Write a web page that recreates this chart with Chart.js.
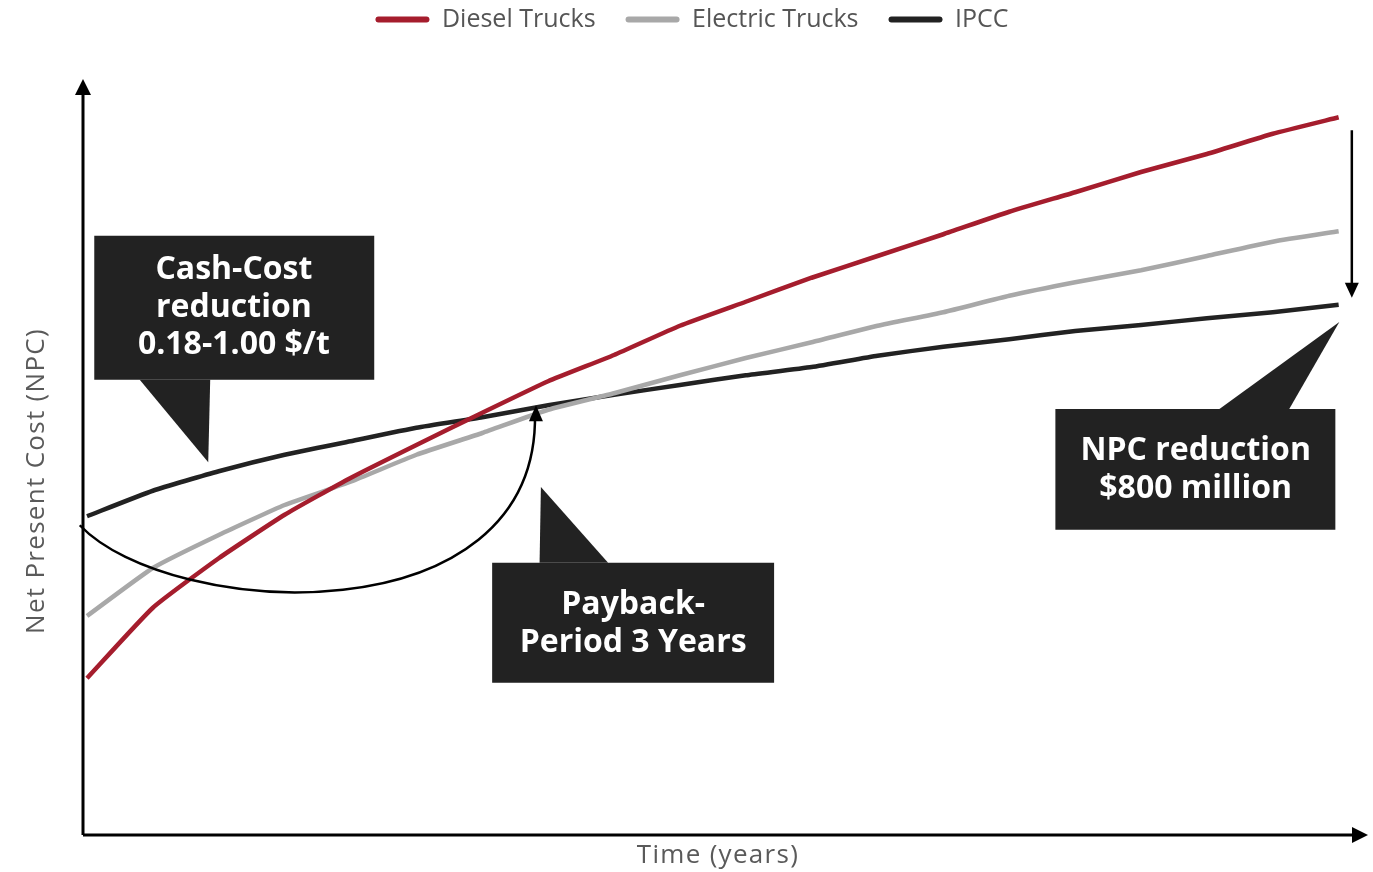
<!DOCTYPE html>
<html lang="en">
<head>
  <meta charset="UTF-8" />
  <title>NPC - Diesel vs Electric Trucks</title>
  <script src="https://cdn.jsdelivr.net/npm/chart.js"></script>
  <style>
    html, body { margin: 0; padding: 0; background: #fff; }
  </style>
</head>
<body>
  <canvas id="npcChart" width="1373" height="872"></canvas>

  <script>
    // years on the x axis (no tick labels shown in the picture)
    const years = [0, 1, 2, 3, 4, 5, 6, 7, 8, 9, 10, 11, 12, 13, 14, 15, 16, 17, 18, 19];

    // NPC, arbitrary units (0 - 100)
    const diesel = [20.9, 30.3, 36.9, 42.7, 47.6, 52.0, 56.3, 60.5, 64.0, 67.9, 71.1, 74.3, 77.2, 80.1, 83.1, 85.7, 88.4, 90.8, 93.5, 95.7];
    const electric = [29.2, 35.6, 40.0, 44.0, 47.1, 50.7, 53.6, 56.7, 58.9, 61.3, 63.6, 65.7, 67.9, 69.7, 71.9, 73.7, 75.3, 77.2, 79.1, 80.5];
    const ipcc = [42.5, 45.9, 48.5, 50.7, 52.5, 54.3, 55.7, 57.3, 58.7, 60.0, 61.3, 62.4, 63.9, 65.1, 66.1, 67.2, 68.0, 68.9, 69.7, 70.7];

    const seriesNames = ['Diesel Trucks', 'Electric Trucks', 'IPCC'];
    const seriesColors = ['#a51d2d', '#a8a8a8', '#222222'];

    const FONT = '"Open Sans", "DejaVu Sans", sans-serif';

    // callout boxes, in data units (x = year, y = NPC)
    const callouts = [
      {
        box: [0.11, 79.9, 4.36, 60.7],
        pointer: [[0.80, 60.7], [1.87, 60.7], [1.84, 49.7]],
        lines: ['Cash-Cost', 'reduction', '0.18-1.00 $/t'],
        textX: 2.23, textY: [75.3, 70.3, 65.3]
      },
      {
        box: [6.15, 36.3, 10.43, 20.3],
        pointer: [[6.87, 36.3], [7.91, 36.3], [6.89, 46.4]],
        lines: ['Payback-', 'Period 3 Years'],
        textX: 8.29, textY: [30.7, 25.6]
      },
      {
        box: [14.70, 56.8, 18.95, 40.7],
        pointer: [[17.19, 56.8], [18.25, 56.8], [19.01, 68.4]],
        lines: ['NPC reduction', '$800 million'],
        textX: 16.83, textY: [51.2, 46.1]
      }
    ];

    function arrowHead(ctx, tipX, tipY, fromX, fromY, len, half) {
      const a = Math.atan2(tipY - fromY, tipX - fromX);
      ctx.beginPath();
      ctx.moveTo(tipX, tipY);
      ctx.lineTo(tipX - len * Math.cos(a) + half * Math.sin(a), tipY - len * Math.sin(a) - half * Math.cos(a));
      ctx.lineTo(tipX - len * Math.cos(a) - half * Math.sin(a), tipY - len * Math.sin(a) + half * Math.cos(a));
      ctx.closePath();
      ctx.fill();
    }

    const axesPlugin = {
      id: 'axesArrows',
      beforeDatasetsDraw(chart) {
        const { ctx, chartArea: a } = chart;
        ctx.save();
        ctx.strokeStyle = '#000';
        ctx.fillStyle = '#000';
        ctx.lineWidth = 3;
        ctx.beginPath();
        ctx.moveTo(a.left, a.bottom);
        ctx.lineTo(a.left, a.top);
        ctx.moveTo(a.left, a.bottom);
        ctx.lineTo(a.right - 6, a.bottom);
        ctx.stroke();
        arrowHead(ctx, a.left, a.top - 6, a.left, a.bottom, 16, 8);
        arrowHead(ctx, a.right + 3, a.bottom, a.left, a.bottom, 16, 8);

        ctx.fillStyle = '#5a5a5a';
        ctx.font = '26px ' + FONT;
        ctx.letterSpacing = '1.3px';
        ctx.textAlign = 'center';
        ctx.textBaseline = 'middle';
        ctx.fillText('Time (years)', (a.left + a.right) / 2 - 6, a.bottom + 21);
        ctx.translate(a.left - 46, (a.top + a.bottom) / 2 + 21);
        ctx.rotate(-Math.PI / 2);
        ctx.fillText('Net Present Cost (NPC)', 0, 0);
        ctx.restore();
      }
    };

    const calloutPlugin = {
      id: 'callouts',
      afterDatasetsDraw(chart) {
        const { ctx } = chart;
        const xs = chart.scales.x, ys = chart.scales.y;
        const px = v => xs.getPixelForValue(v);
        const py = v => ys.getPixelForValue(v);
        ctx.save();

        // payback curved arrow, from the start of the IPCC line to the crossing
        const p0 = [px(-0.11), py(41.3)], p1 = [px(1.26), py(28.7)];
        const p2 = [px(6.87), py(26.0)], p3 = [px(6.80), py(57.3)];
        ctx.strokeStyle = '#000';
        ctx.fillStyle = '#000';
        ctx.lineWidth = 2.5;
        ctx.beginPath();
        ctx.moveTo(p0[0], p0[1]);
        ctx.bezierCurveTo(p1[0], p1[1], p2[0], p2[1], p3[0], p3[1] + 8);
        ctx.stroke();
        arrowHead(ctx, p3[0] + 1, p3[1], p2[0] - 4, p2[1], 16, 7);

        // NPC reduction arrow at the end of the series
        const last = years.length - 1;
        const ax = px(years[last] + 0.2);
        ctx.lineWidth = 2.5;
        ctx.beginPath();
        ctx.moveTo(ax, py(diesel[last]) + 13);
        ctx.lineTo(ax, py(ipcc[last]) - 14);
        ctx.stroke();
        arrowHead(ctx, ax, py(ipcc[last]) - 7, ax, py(diesel[last]), 15, 7);

        // callout boxes
        callouts.forEach(c => {
          ctx.fillStyle = '#222222';
          const [x0, y0, x1, y1] = c.box;
          ctx.fillRect(px(x0), py(y0), px(x1) - px(x0), py(y1) - py(y0));
          ctx.beginPath();
          c.pointer.forEach(([x, y], i) => {
            if (i === 0) ctx.moveTo(px(x), py(y));
            else ctx.lineTo(px(x), py(y));
          });
          ctx.closePath();
          ctx.fill();
          ctx.fillStyle = '#ffffff';
          ctx.font = 'bold 32px ' + FONT;
          ctx.textAlign = 'center';
          ctx.textBaseline = 'middle';
          c.lines.forEach((t, i) => ctx.fillText(t, px(c.textX), py(c.textY[i])));
        });
        ctx.restore();
      }
    };

    const ctx = document.getElementById('npcChart').getContext('2d');
    new Chart(ctx, {
      type: 'line',
      data: {
        labels: years,
        datasets: [diesel, electric, ipcc].map((vals, i) => ({
          label: seriesNames[i],
          data: vals.map((v, j) => ({ x: years[j], y: v })),
          borderColor: seriesColors[i],
          backgroundColor: seriesColors[i],
          borderWidth: 4.5,
          pointRadius: 0,
          tension: 0.15,
          fill: false
        }))
      },
      options: {
        responsive: false,
        animation: false,
        devicePixelRatio: 1,
        layout: { padding: { left: 19, right: 8, bottom: 37, top: -23 } },
        plugins: {
          tooltip: { enabled: false },
          legend: {
            position: 'top',
            labels: {
              boxWidth: 54,
              boxHeight: 6,
              useBorderRadius: true,
              borderRadius: 3,
              padding: 30,
              color: '#555555',
              font: { family: FONT, size: 25 },
              generateLabels(chart) {
                const items = Chart.defaults.plugins.legend.labels.generateLabels(chart);
                items.forEach(it => { it.lineWidth = 0; });
                return items;
              }
            }
          },
          // empty title used as a spacer between legend and plot
          title: {
            display: true,
            text: '',
            position: 'top',
            weight: 500,
            font: { size: 10 },
            padding: { top: 0, bottom: 31 }
          }
        },
        scales: {
          x: { type: 'linear', min: -0.061, max: 19.40, display: false },
          y: {
            min: 0, max: 100,
            ticks: { display: false },
            grid: { display: false },
            border: { display: false },
            afterFit(scale) { scale.width = 64; }
          }
        }
      },
      plugins: [axesPlugin, calloutPlugin]
    });
  </script>
</body>
</html>
